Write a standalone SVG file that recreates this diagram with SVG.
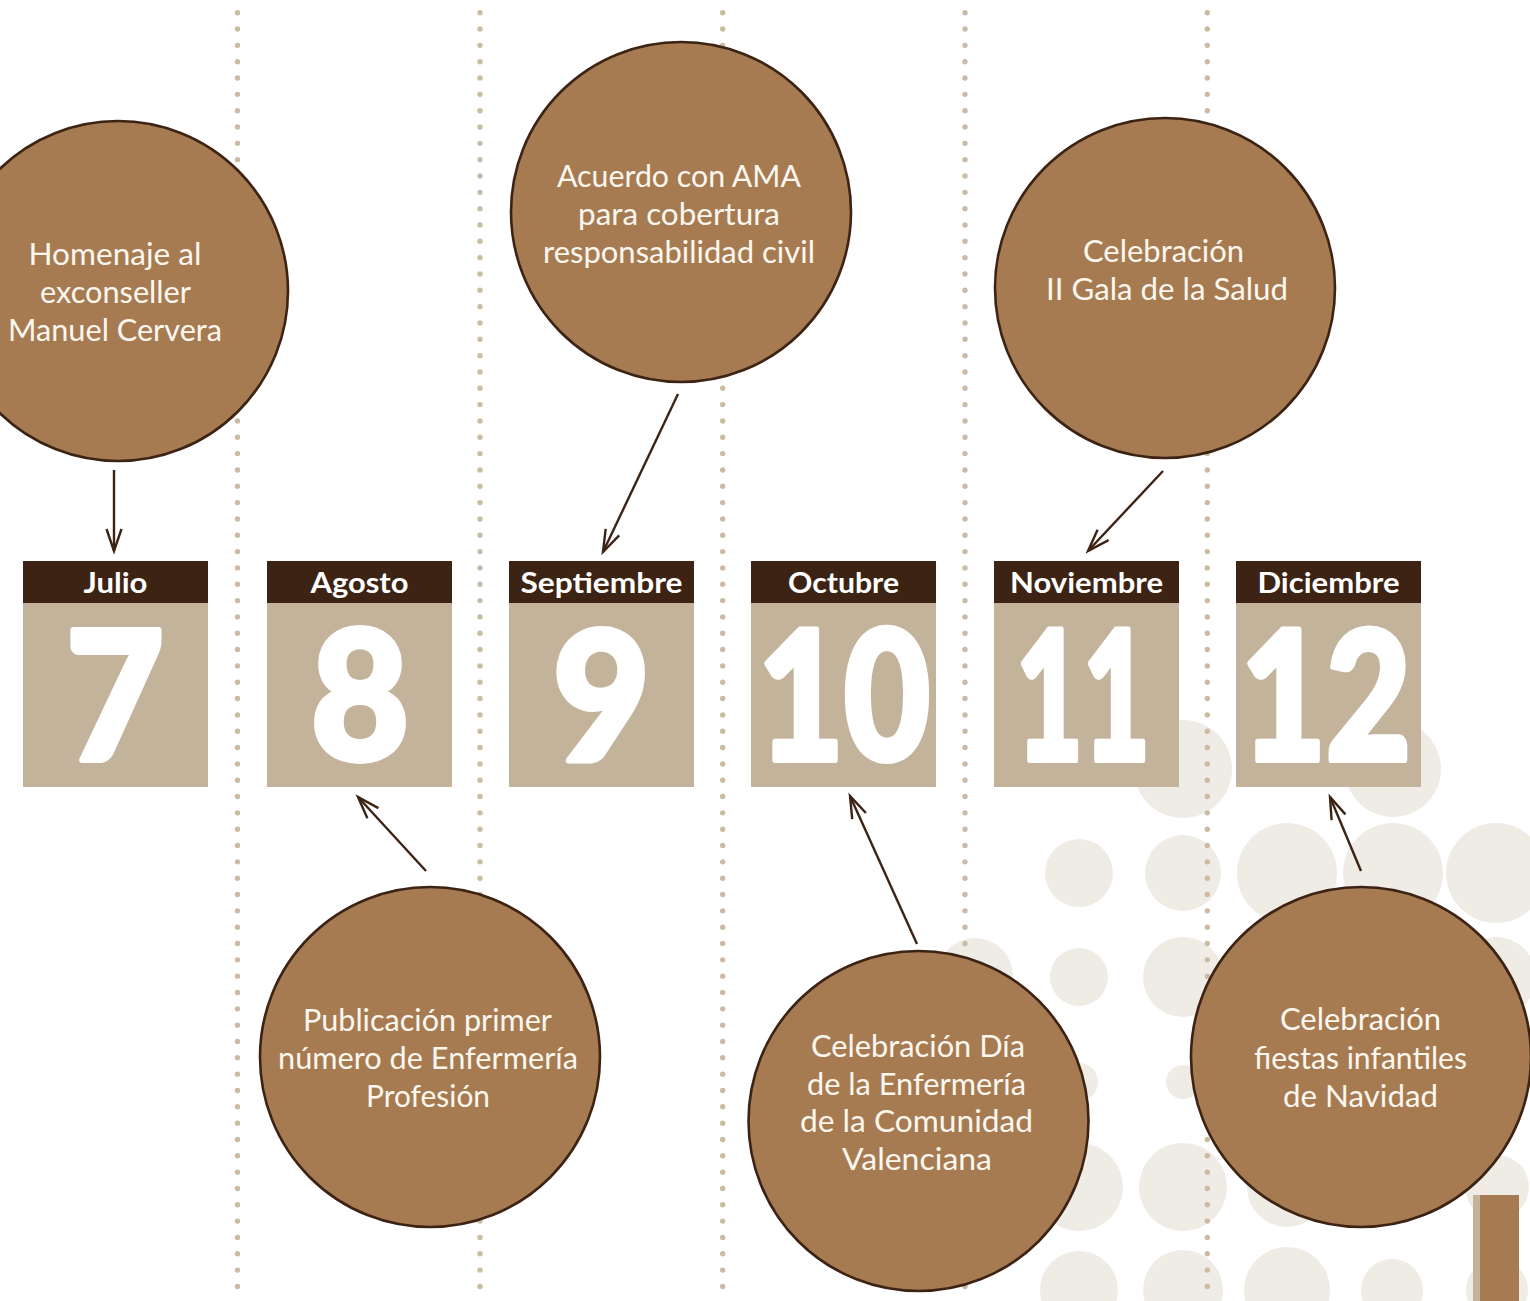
<svg xmlns="http://www.w3.org/2000/svg" width="1530" height="1301" viewBox="0 0 1530 1301">
<style>
.bg{fill:#efece6}
.dl{stroke:#cbbba4;stroke-width:5.4;stroke-linecap:round;stroke-dasharray:0 16.33;fill:none}
.hd{fill:#3d2314}
.bd{fill:#c4b39b}
.mo{font-family:Lato,"Liberation Sans",sans-serif;font-weight:700;font-size:29px;fill:#ffffff;text-anchor:middle}
.dg{font-family:Lato,"Liberation Sans",sans-serif;font-weight:900;font-size:180px;fill:#ffffff;stroke:#ffffff;stroke-width:6;stroke-linejoin:round;text-anchor:middle}
.ev{fill:#a77b52;stroke:#3c2314;stroke-width:2.6}
.tx{font-family:Lato,"Liberation Sans",sans-serif;font-weight:400;font-size:30px;fill:#fcf7ee;text-anchor:middle}
.ar{stroke:#3c2314;stroke-width:2.4;fill:none}
</style>
<defs>
<marker id="ah" viewBox="-26 -10 30 20" refX="0" refY="0" markerWidth="30" markerHeight="20" markerUnits="userSpaceOnUse" orient="auto">
<path d="M-22,-7.5 L0,0 L-22,7.5" fill="none" stroke="#3c2314" stroke-width="2.4"/>
</marker>
</defs>
<rect width="1530" height="1301" fill="#ffffff"/>
<g id="background-dots">
<circle class="bg" cx="1183" cy="769" r="49"/>
<circle class="bg" cx="1393" cy="769" r="48"/>
<circle class="bg" cx="1079" cy="873" r="34"/>
<circle class="bg" cx="1183" cy="873" r="38"/>
<circle class="bg" cx="1287" cy="873" r="50"/>
<circle class="bg" cx="1393" cy="873" r="50"/>
<circle class="bg" cx="1496" cy="873" r="50"/>
<circle class="bg" cx="975" cy="976" r="38"/>
<circle class="bg" cx="1079" cy="977" r="29"/>
<circle class="bg" cx="1183" cy="977" r="40"/>
<circle class="bg" cx="1496" cy="977" r="40"/>
<circle class="bg" cx="1079" cy="1082" r="19"/>
<circle class="bg" cx="1183" cy="1082" r="17"/>
<circle class="bg" cx="1079" cy="1187" r="44"/>
<circle class="bg" cx="1183" cy="1187" r="44"/>
<circle class="bg" cx="1287" cy="1187" r="40"/>
<circle class="bg" cx="1497" cy="1187" r="32"/>
<circle class="bg" cx="1079" cy="1290" r="39"/>
<circle class="bg" cx="1183" cy="1290" r="40"/>
<circle class="bg" cx="1287" cy="1290" r="43"/>
<circle class="bg" cx="1392" cy="1290" r="31"/>
<circle class="bg" cx="1497" cy="1290" r="31"/>
</g>
<g id="dotted-lines">
<line class="dl" x1="237.5" y1="12.7" x2="237.5" y2="1301"/>
<line class="dl" x1="480" y1="12.7" x2="480" y2="1301"/>
<line class="dl" x1="722.7" y1="12.7" x2="722.7" y2="1301"/>
<line class="dl" x1="965" y1="12.7" x2="965" y2="1301"/>
<line class="dl" x1="1207.3" y1="12.7" x2="1207.3" y2="1301"/>
</g>
<g id="month-julio">
<rect class="hd" x="23" y="561" width="185" height="42"/>
<rect class="bd" x="23" y="603" width="185" height="184"/>
<text class="mo" x="115.5" y="593" textLength="64" lengthAdjust="spacingAndGlyphs">Julio</text>
<text class="dg" x="115" y="760" textLength="98" lengthAdjust="spacingAndGlyphs">7</text>
</g>
<g id="month-agosto">
<rect class="hd" x="267" y="561" width="185" height="42"/>
<rect class="bd" x="267" y="603" width="185" height="184"/>
<text class="mo" x="359.5" y="593" textLength="98" lengthAdjust="spacingAndGlyphs">Agosto</text>
<text class="dg" x="360" y="760" textLength="98" lengthAdjust="spacingAndGlyphs">8</text>
</g>
<g id="month-septiembre">
<rect class="hd" x="509" y="561" width="185" height="42"/>
<rect class="bd" x="509" y="603" width="185" height="184"/>
<text class="mo" x="601.5" y="593" textLength="162" lengthAdjust="spacingAndGlyphs">Septiembre</text>
<text class="dg" x="601.5" y="760" textLength="97" lengthAdjust="spacingAndGlyphs">9</text>
</g>
<g id="month-octubre">
<rect class="hd" x="751" y="561" width="185" height="42"/>
<rect class="bd" x="751" y="603" width="185" height="184"/>
<text class="mo" x="843.5" y="593" textLength="111" lengthAdjust="spacingAndGlyphs">Octubre</text>
<text class="dg" x="844" y="760" textLength="172" lengthAdjust="spacingAndGlyphs">10</text>
</g>
<g id="month-noviembre">
<rect class="hd" x="994" y="561" width="185" height="42"/>
<rect class="bd" x="994" y="603" width="185" height="184"/>
<text class="mo" x="1086.5" y="593" textLength="153" lengthAdjust="spacingAndGlyphs">Noviembre</text>
<text class="dg" x="1083" y="760" textLength="134" lengthAdjust="spacingAndGlyphs">11</text>
</g>
<g id="month-diciembre">
<rect class="hd" x="1236" y="561" width="185" height="42"/>
<rect class="bd" x="1236" y="603" width="185" height="184"/>
<text class="mo" x="1328.5" y="593" textLength="142" lengthAdjust="spacingAndGlyphs">Diciembre</text>
<text class="dg" x="1326" y="760" textLength="170" lengthAdjust="spacingAndGlyphs">12</text>
</g>
<g id="connectors">
<line class="ar" x1="114" y1="470" x2="114" y2="551" marker-end="url(#ah)"/>
<line class="ar" x1="678" y1="394" x2="603" y2="552" marker-end="url(#ah)"/>
<line class="ar" x1="1163" y1="471" x2="1088" y2="551" marker-end="url(#ah)"/>
<line class="ar" x1="426" y1="871" x2="358" y2="797" marker-end="url(#ah)"/>
<line class="ar" x1="917" y1="944" x2="850" y2="796" marker-end="url(#ah)"/>
<line class="ar" x1="1361" y1="871" x2="1330" y2="797" marker-end="url(#ah)"/>
</g>
<g id="event-homenaje">
<circle class="ev" cx="118" cy="291" r="170"/>
<text class="tx" x="115" y="265" textLength="173" lengthAdjust="spacingAndGlyphs">Homenaje al</text>
<text class="tx" x="115.5" y="303" textLength="151" lengthAdjust="spacingAndGlyphs">exconseller</text>
<text class="tx" x="115" y="341" textLength="214" lengthAdjust="spacingAndGlyphs">Manuel Cervera</text>
</g>
<g id="event-ama">
<circle class="ev" cx="681" cy="212" r="170"/>
<text class="tx" x="679" y="187" textLength="244" lengthAdjust="spacingAndGlyphs">Acuerdo con AMA</text>
<text class="tx" x="679" y="225" textLength="202" lengthAdjust="spacingAndGlyphs">para cobertura</text>
<text class="tx" x="679" y="263" textLength="272" lengthAdjust="spacingAndGlyphs">responsabilidad civil</text>
</g>
<g id="event-gala">
<circle class="ev" cx="1165" cy="288" r="170"/>
<text class="tx" x="1163.5" y="262" textLength="161" lengthAdjust="spacingAndGlyphs">Celebración</text>
<text class="tx" x="1167" y="300" textLength="242" lengthAdjust="spacingAndGlyphs">II Gala de la Salud</text>
</g>
<g id="event-publicacion">
<circle class="ev" cx="430" cy="1057" r="170"/>
<text class="tx" x="427.5" y="1031" textLength="249" lengthAdjust="spacingAndGlyphs">Publicación primer</text>
<text class="tx" x="428" y="1069" textLength="300" lengthAdjust="spacingAndGlyphs">número de Enfermería</text>
<text class="tx" x="428" y="1107" textLength="124" lengthAdjust="spacingAndGlyphs">Profesión</text>
</g>
<g id="event-valenciana">
<circle class="ev" cx="918.5" cy="1121" r="170"/>
<text class="tx" x="918" y="1057" textLength="214" lengthAdjust="spacingAndGlyphs">Celebración Día</text>
<text class="tx" x="916.5" y="1095" textLength="219" lengthAdjust="spacingAndGlyphs">de la Enfermería</text>
<text class="tx" x="916.5" y="1132" textLength="233" lengthAdjust="spacingAndGlyphs">de la Comunidad</text>
<text class="tx" x="917" y="1170" textLength="150" lengthAdjust="spacingAndGlyphs">Valenciana</text>
</g>
<g id="event-navidad">
<circle class="ev" cx="1361" cy="1057" r="170"/>
<text class="tx" x="1360.5" y="1030" textLength="161" lengthAdjust="spacingAndGlyphs">Celebración</text>
<text class="tx" x="1360.5" y="1069" textLength="213" lengthAdjust="spacingAndGlyphs">fiestas infantiles</text>
<text class="tx" x="1360.5" y="1107" textLength="155" lengthAdjust="spacingAndGlyphs">de Navidad</text>
</g>
<g id="corner-tab">
<rect x="1473" y="1195" width="7" height="106" fill="#c4b39b"/>
<rect x="1480" y="1195" width="39" height="106" fill="#a77b52"/>
</g>
</svg>
